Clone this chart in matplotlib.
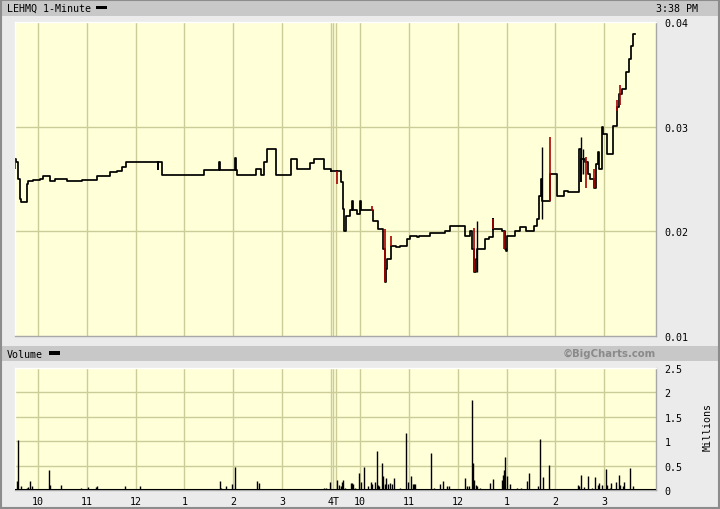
import matplotlib
matplotlib.use("Agg")
import matplotlib.pyplot as plt
from matplotlib.patches import Rectangle

# ---------------- data (minutes after 9:30 open of each session) ----------------
DAY2_OFFSET = 396  # plotting offset of second session

d1_min = [2, 3, 5, 6, 8, 9, 15, 17, 18, 24, 32, 36, 45, 51, 66, 84, 102, 118, 127, 133,
          138, 177, 178, 182, 234, 253, 254, 272, 274, 275, 298, 304, 308, 312, 323, 341,
          348, 365, 369, 381, 390]
d1_price = [0.0269, 0.0266, 0.0264, 0.0250, 0.0231, 0.0228, 0.0228, 0.0245, 0.0248, 0.0249,
            0.0250, 0.0253, 0.0248, 0.0250, 0.0248, 0.0249, 0.0253, 0.0257, 0.0258, 0.0261,
            0.0266, 0.0260, 0.0266, 0.0254, 0.0259, 0.0266, 0.0259, 0.0270, 0.0259, 0.0254,
            0.0260, 0.0254, 0.0266, 0.0279, 0.0254, 0.0269, 0.0260, 0.0265, 0.0269, 0.0260,
            0.0258]

d2_min = [1, 7, 9, 10, 13, 18, 20, 21, 26, 30, 31, 46, 52, 58, 61, 62, 63, 68, 74, 79,
          88, 91, 100, 103, 116, 134, 140, 159, 165, 167, 170, 172, 174, 183, 189, 193, 194,
          204, 208, 209, 211, 220, 226, 234, 244, 247, 250, 253, 254, 263, 272, 281, 285,
          299, 301, 302, 306, 310, 313, 317, 320, 322, 324, 328, 329, 333, 341, 346, 348,
          352, 357, 360, 363, 365, 368]
d2_price = [0.0258, 0.0247, 0.0221, 0.0200, 0.0215, 0.0220, 0.0229, 0.0220, 0.0217, 0.0229,
            0.0220, 0.0210, 0.0202, 0.0183, 0.0152, 0.0164, 0.0174, 0.0186, 0.0185, 0.0186,
            0.0193, 0.0196, 0.0195, 0.0196, 0.0198, 0.0200, 0.0205, 0.0196, 0.0200, 0.0183,
            0.0161, 0.0174, 0.0183, 0.0193, 0.0195, 0.0212, 0.0202, 0.0200, 0.0183, 0.0181,
            0.0196, 0.0200, 0.0204, 0.0200, 0.0205, 0.0212, 0.0234, 0.0250, 0.0229, 0.0255,
            0.0234, 0.0239, 0.0238, 0.0279, 0.0248, 0.0269, 0.0266, 0.0255, 0.0250, 0.0241,
            0.0264, 0.0276, 0.0260, 0.0300, 0.0293, 0.0274, 0.0301, 0.0319, 0.0331, 0.0336,
            0.0352, 0.0365, 0.0377, 0.0389, 0.0389]

# one-minute bar spikes: session, minute, low, high, down-tick?
spike_day = [1, 2, 2, 2, 2, 2, 2, 2, 2, 2, 2, 2, 2, 2, 2, 2, 2]
spike_min = [2, 1, 45, 61, 68, 170, 174, 193, 207, 254, 263, 302, 304, 308, 318, 346, 350]
spike_low = [0.0260, 0.0245, 0.0219, 0.0152, 0.0186, 0.0161, 0.0161, 0.0202, 0.0183, 0.0212,
             0.0229, 0.0255, 0.0255, 0.0241, 0.0241, 0.0315, 0.0321]
spike_high = [0.0270, 0.0258, 0.0224, 0.0202, 0.0196, 0.0203, 0.0210, 0.0212, 0.0200, 0.0281,
              0.0290, 0.0290, 0.0279, 0.0271, 0.0260, 0.0325, 0.0340]
spike_down = [True, True, True, True, True, True, False, True, True, False,
              True, False, False, True, True, True, True]

v1_min = [4, 5, 9, 16, 18, 20, 23, 44, 45, 48, 58, 83, 92, 101, 103, 109, 114, 118, 137, 155,
          176, 214, 254, 255, 261, 269, 272, 299, 302, 310, 312, 379, 382, 384, 389]
v1_vol = [0.19, 1.03, 0.08, 0.05, 0.06, 0.19, 0.08, 0.41, 0.10, 0.03, 0.10, 0.05, 0.06, 0.06,
          0.08, 0.02, 0.02, 0.02, 0.08, 0.08, 0.02, 0.02, 0.19, 0.05, 0.08, 0.12, 0.47, 0.19,
          0.14, 0.02, 0.02, 0.02, 0.04, 0.05, 0.17]
v2_min = [1, 4, 7, 8, 9, 12, 19, 20, 21, 24, 29, 31, 35, 40, 44, 45, 48, 51, 52, 53, 57, 58,
          60, 62, 64, 67, 69, 72, 79, 87, 89, 93, 95, 96, 98, 117, 121, 128, 132, 137, 139,
          159, 162, 164, 168, 169, 170, 172, 174, 178, 190, 194, 205, 206, 207, 208, 211, 214,
          223, 228, 235, 238, 249, 251, 255, 262, 276, 292, 298, 299, 302, 305, 310, 315, 319,
          322, 324, 328, 332, 334, 337, 339, 345, 348, 350, 353, 355, 362, 365]
v2_vol = [0.20, 0.10, 0.08, 0.16, 0.20, 0.05, 0.14, 0.14, 0.12, 0.04, 0.35, 0.17, 0.47, 0.08,
          0.17, 0.12, 0.17, 0.79, 0.10, 0.08, 0.56, 0.29, 0.12, 0.25, 0.12, 0.15, 0.12, 0.25,
          0.05, 1.16, 0.17, 0.29, 0.12, 0.12, 0.12, 0.76, 0.04, 0.12, 0.19, 0.08, 0.08, 0.25,
          0.08, 0.08, 1.84, 0.56, 0.20, 0.10, 0.08, 0.04, 0.14, 0.22, 0.20, 0.30, 0.40, 0.68,
          0.29, 0.12, 0.04, 0.04, 0.19, 0.35, 0.08, 1.05, 0.27, 0.51, 0.03, 0.03, 0.10, 0.08,
          0.31, 0.06, 0.29, 0.04, 0.27, 0.10, 0.14, 0.10, 0.43, 0.10, 0.05, 0.15, 0.17, 0.31,
          0.10, 0.08, 0.17, 0.45, 0.08]

hour_labels = ["10", "11", "12", "1", "2", "3"]
hour_minutes = [30, 90, 150, 210, 270, 330]
price_ticks = [0.01, 0.02, 0.03, 0.04]
vol_ticks = [0, 0.5, 1, 1.5, 2, 2.5]
vol_tick_labels = ["0", "0.5", "1", "1.5", "2", "2.5"]

# ---------------- figure ----------------
W, H = 720, 510
fig = plt.figure(figsize=(W / 100, H / 100), dpi=100, facecolor="#EBEBEB")
MONO = "DejaVu Sans Mono"
FS = 7.2
BG = "#FFFFD8"
GRID = "#CCCC99"


def fx(px):
    return px / W


def fy(py):
    return 1 - py / H


# title bars and outer border
for y0, y1 in [(2, 17), (347, 362)]:
    fig.patches.append(Rectangle((fx(2), fy(y1)), fx(716), (y1 - y0) / H,
                                 transform=fig.transFigure, facecolor="#C8C8C8",
                                 edgecolor="none", zorder=0))
fig.patches.append(Rectangle((0.0007, 0.001), 0.998, 0.997, transform=fig.transFigure,
                             facecolor="none", edgecolor="#8C8C8C", lw=1.5, zorder=0))
for (x0, y0, x1, y1) in [(96, 7, 107, 10), (49, 352, 60, 356)]:
    fig.patches.append(Rectangle((fx(x0), fy(y1)), (x1 - x0) / W, (y1 - y0) / H,
                                 transform=fig.transFigure, facecolor="black",
                                 edgecolor="none", zorder=2))

fig.text(fx(7), fy(9), "LEHMQ 1-Minute", family=MONO, size=FS, ha="left", va="center")
fig.text(fx(698), fy(9), "3:38 PM", family=MONO, size=FS, ha="right", va="center")
fig.text(fx(7), fy(355), "Volume", family=MONO, size=FS, ha="left", va="center")
fig.text(fx(656), fy(354), "\u00a9BigCharts.com", family="DejaVu Sans", weight="bold",
         size=7.3, color="#8A8A8A", ha="right", va="center")
fig.text(fx(708), fy(427), "Millions", family=MONO, size=FS, rotation=90,
         ha="center", va="center")

XMIN, XMAX = 1.7, 789.8
grid_x = [m for m in hour_minutes] + [390, 392.5] + [DAY2_OFFSET + m for m in hour_minutes] + [DAY2_OFFSET]

ax = fig.add_axes([fx(15), fy(337), fx(656) - fx(15), fy(23) - fy(337)])
axv = fig.add_axes([fx(15), fy(491), fx(656) - fx(15), fy(369) - fy(491)])

for a in (ax, axv):
    a.set_facecolor(BG)
    a.set_xlim(XMIN, XMAX)
    for gx in grid_x:
        a.axvline(gx, color=GRID, lw=1.0, zorder=0)
    a.yaxis.tick_right()
    a.tick_params(axis="both", length=0, labelsize=FS)
    for s in a.spines.values():
        s.set_color("#A8A8A8")
        s.set_linewidth(1.0)
    a.spines["top"].set_color("#FFFFFF")
    a.spines["left"].set_color("#FFFFFF")

# price panel
ax.set_ylim(0.01, 0.04)
for p in price_ticks[1:-1]:
    ax.axhline(p, color=GRID, lw=1.0, zorder=0)
ax.set_yticks(price_ticks)
ax.set_yticklabels([f"{p:.2f}" for p in price_ticks], family=MONO, size=FS)
ax.tick_params(axis="y", pad=6)
ax.set_xticks([])

LW = 1.25
x1 = d1_min
x2 = [DAY2_OFFSET + m for m in d2_min]
ax.step(x1, d1_price, where="post", color="black", lw=LW, zorder=3)
ax.plot([x1[-1], x2[0]], [d1_price[-1], d2_price[0]], color="black", lw=LW, zorder=3)
ax.step(x2, d2_price, where="post", color="black", lw=LW, zorder=3)
sx = [m if d == 1 else DAY2_OFFSET + m for d, m in zip(spike_day, spike_min)]
ax.vlines([s for s, dn in zip(sx, spike_down) if dn],
          [l for l, dn in zip(spike_low, spike_down) if dn],
          [h for h, dn in zip(spike_high, spike_down) if dn],
          color="#AA0000", lw=1.2, zorder=4)
ax.vlines([s for s, dn in zip(sx, spike_down) if not dn],
          [l for l, dn in zip(spike_low, spike_down) if not dn],
          [h for h, dn in zip(spike_high, spike_down) if not dn],
          color="black", lw=1.0, zorder=4)

# volume panel
axv.set_ylim(0, 2.5)
for v in vol_ticks[1:-1]:
    axv.axhline(v, color=GRID, lw=1.0, zorder=0)
axv.set_yticks(vol_ticks)
axv.set_yticklabels(vol_tick_labels, family=MONO, size=FS)
axv.tick_params(axis="y", pad=6)
axv.vlines(v1_min, 0, v1_vol, color="black", lw=1.0, zorder=3)
axv.vlines([DAY2_OFFSET + m for m in v2_min], 0, v2_vol, color="black", lw=1.0, zorder=3)
axv.axhline(0, color="black", lw=1.5, zorder=4)
xt = hour_minutes + [390, DAY2_OFFSET] + [DAY2_OFFSET + m for m in hour_minutes]
xl = hour_labels + ["4", "T"] + hour_labels
axv.set_xticks(xt)
axv.set_xticklabels(xl, family=MONO, size=FS)
axv.tick_params(axis="x", pad=4)

fig.savefig("out.png", dpi=100, facecolor=fig.get_facecolor())
